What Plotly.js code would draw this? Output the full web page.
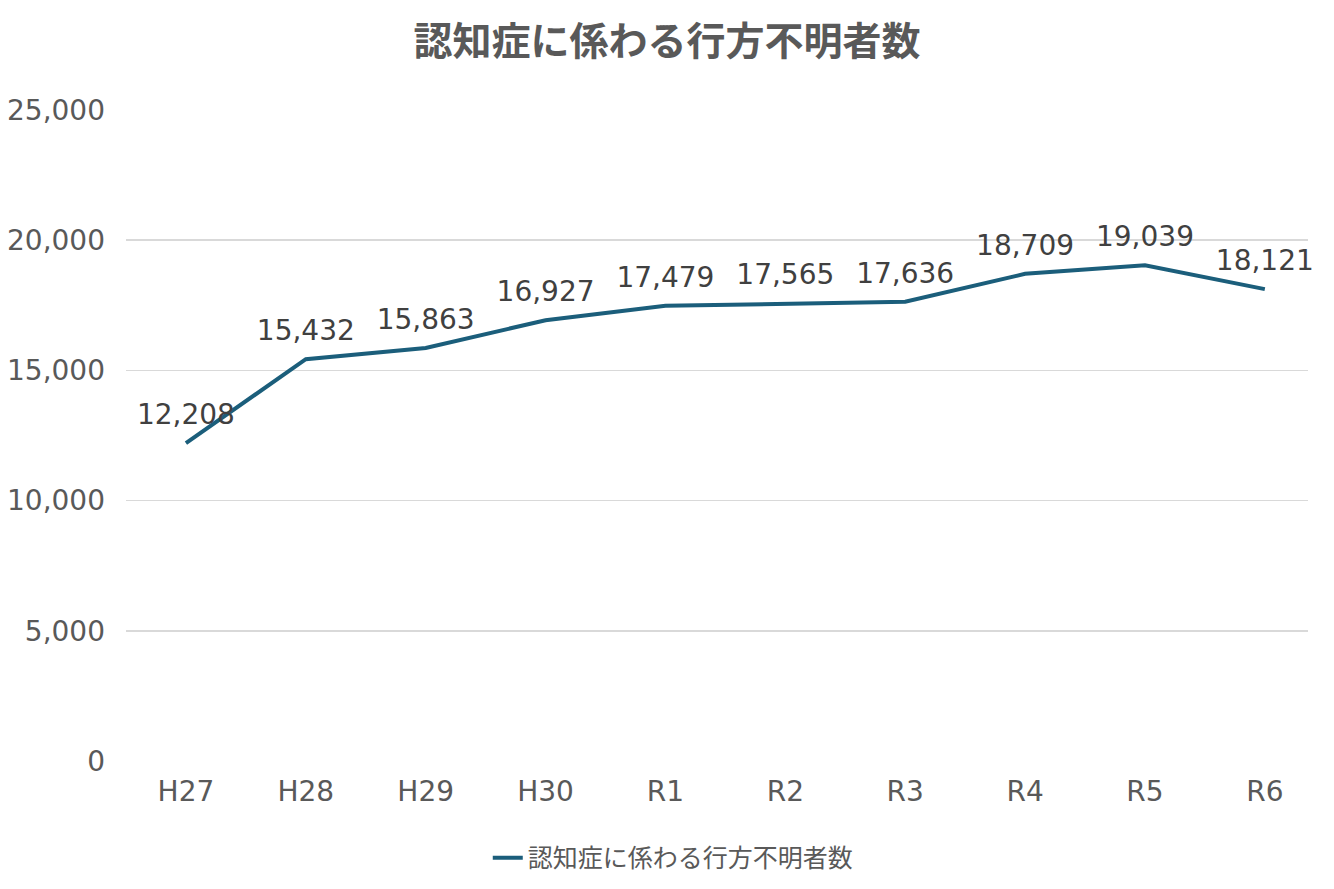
<!DOCTYPE html>
<html>
<head>
<meta charset="utf-8">
<script src="https://cdn.plot.ly/plotly-3.0.1.min.js"></script>
<style>
  html, body { margin: 0; padding: 0; background: #fff; }
  #chart { width: 1334px; height: 889px; }
</style>
</head>
<body>
<div id="chart"></div>
<script>
// 年度と件数
const years = ['H27', 'H28', 'H29', 'H30', 'R1', 'R2', 'R3', 'R4', 'R5', 'R6'];
const missing = [12208, 15432, 15863, 16927, 17479, 17565, 17636, 18709, 19039, 18121];
const yTicks = [0, 5000, 10000, 15000, 20000, 25000];
const seriesName = '認知症に係わる行方不明者数';

// 数字は幅広のDejaVu、漢字はNoto CJKにフォールバック
const font = '"DejaVu Sans", "Noto Sans CJK JP", sans-serif';
const cjk = '"Noto Sans CJK JP", sans-serif';

const trace = {
    type: 'scatter',
    mode: 'lines+markers+text',
    name: seriesName,
    x: years,
    y: missing,
    line: { color: '#1b5e7b', width: 4 },
    marker: { size: 18, color: 'rgba(0,0,0,0)' },
    text: missing.map(v => v.toLocaleString('en-US')),
    textposition: 'top center',
    textfont: { family: font, size: 28, color: '#404040' },
    cliponaxis: false
};

const layout = {
    width: 1334,
    height: 889,
    margin: { l: 126, r: 26, t: 110, b: 128, autoexpand: false },
    paper_bgcolor: '#ffffff',
    plot_bgcolor: '#ffffff',
    font: { family: font, color: '#595959' },
    title: {
        text: '<b>' + seriesName + '</b>',
        font: { family: cjk, size: 39, color: '#595959' },
        x: 0.5,
        xanchor: 'center',
        y: 0.953,
        yanchor: 'middle'
    },
    xaxis: {
        type: 'category',
        range: [-0.5, 9.36],
        showgrid: false,
        zeroline: false,
        showline: false,
        ticks: '',
        tickfont: { family: font, size: 28, color: '#595959' },
        ticklabelstandoff: 11
    },
    yaxis: {
        range: [0, 25000],
        tickvals: yTicks,
        ticktext: yTicks.map(v => v.toLocaleString('en-US')),
        showgrid: true,
        gridcolor: '#d9d9d9',
        gridwidth: 1.5,
        zeroline: false,
        showline: false,
        ticks: '',
        tickfont: { family: font, size: 28, color: '#595959' },
        ticklabelstandoff: 20
    },
    showlegend: true,
    legend: {
        orientation: 'h',
        x: 0.463,
        xanchor: 'center',
        y: -0.149,
        yanchor: 'middle',
        font: { family: cjk, size: 25, color: '#595959' }
    }
};

Plotly.newPlot('chart', [trace], layout, { displayModeBar: false, staticPlot: true });
</script>
</body>
</html>
